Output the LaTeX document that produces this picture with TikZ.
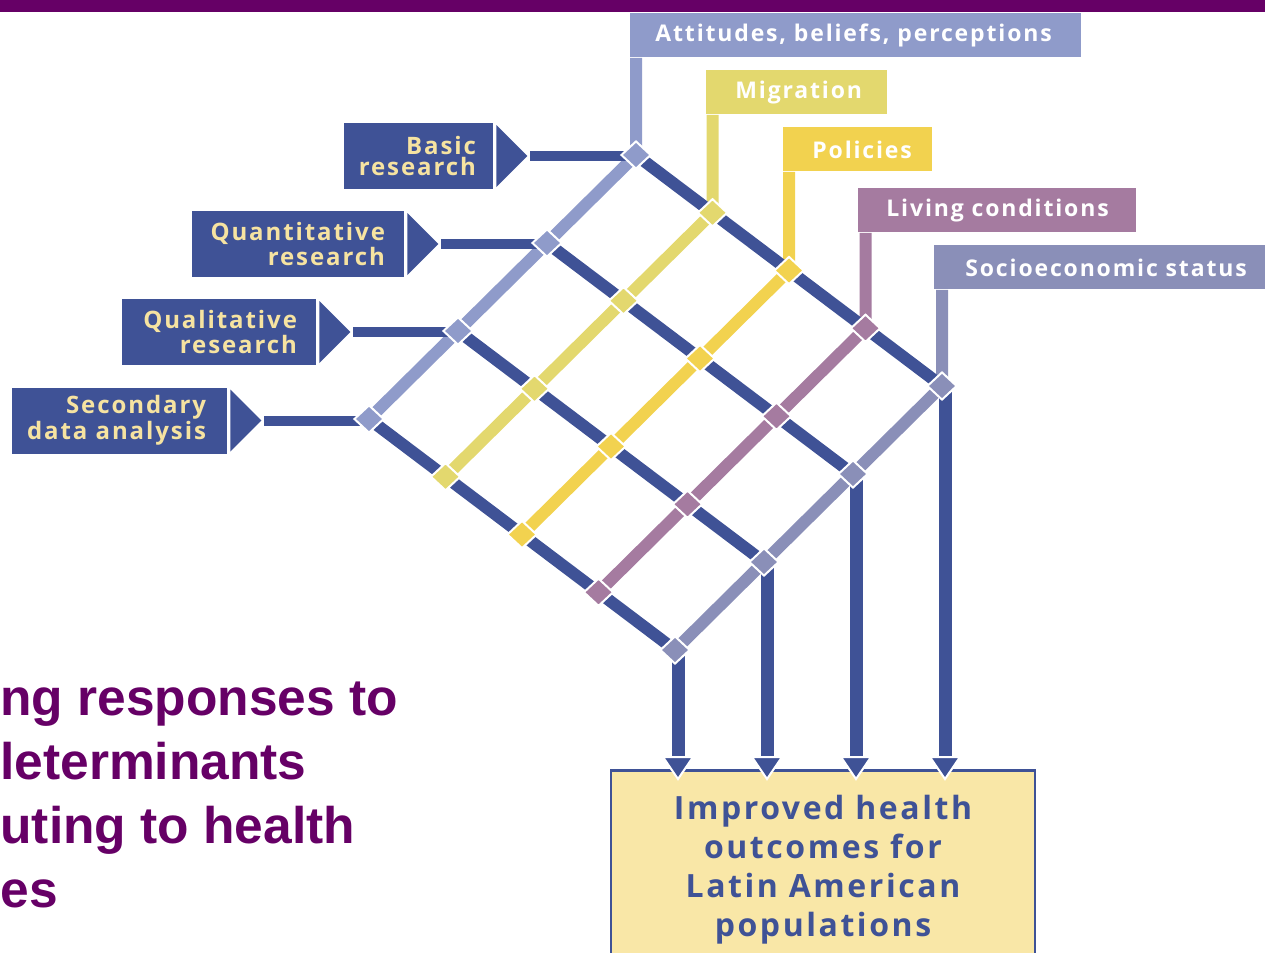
\documentclass[tikz,border=0pt]{standalone}
\usepackage{fontspec}
\usepackage{tikz}
\usetikzlibrary{positioning,shapes,arrows.meta}
\newfontfamily\lbl[LetterSpace=8,Ligatures=NoCommon]{Open Sans}
\newfontfamily\ttl{Liberation Sans}
\definecolor{dkblue}{HTML}{3F5296}
\definecolor{cream}{HTML}{F6E3A1}
\definecolor{att}{HTML}{8F9BCA}
\definecolor{mig}{HTML}{E3D86E}
\definecolor{pol}{HTML}{F2D24F}
\definecolor{liv}{HTML}{A57BA0}
\definecolor{soc}{HTML}{8A8FB8}
\definecolor{outbg}{HTML}{F9E7A7}
\definecolor{plum}{HTML}{660066}
\tikzset{rb/.style={fill=dkblue,rectangle,minimum height=33pt,inner
sep=0pt},rt/.style={text=cream,inner sep=0pt,align=right,
font=\lbl\bfseries\fontsize{12}{10.8}\selectfont},lb/.style={rectangle,anchor=north
west,minimum height=22pt,inner sep=0pt},lt/.style={text=white,inner
sep=0pt,font=\lbl\bfseries\fontsize{11.5}{12}\selectfont}}

\begin{document}
\begin{tikzpicture}[x=0.5pt,y=-0.5pt,dm/.style={diamond,draw=white,line width=1pt,
					inner sep=0pt,minimum width=15pt,minimum height=14pt},rw/.style={draw=dkblue,line
					width=6pt},cl/.style={line width=6pt}]
		\useasboundingbox (0,0) rectangle (1265,953);
		\clip (0,0) rectangle (1265,953);
		\fill[plum] (0,0) rectangle (1265,12);
		\foreach \i in {0,...,3}
			\foreach \j in {0,...,4}
				\coordinate (p\i\j) at ({636-89*\i+76.5*\j},{155+88*\i+57.75*\j});
		\node[lb,fill=att,minimum width=225.5pt] (l0) at (630,13) {};
		\node[lb,fill=mig,minimum width=90.5pt] (l1) at (706,70) {};
		\node[lb,fill=pol,minimum width=74.5pt] (l2) at (783,127) {};
		\node[lb,fill=liv,minimum width=139pt] (l3) at (858,188) {};
		\node[lb,fill=soc,minimum width=170pt] (l4) at (934,245) {};
		\node[lt,right=12.5pt of l0.west] (t0) {Attitudes, beliefs, perceptions};
		\node[lt,right=14.5pt of l1.west] (t1) {Migration};
		\node[lt,right=14.5pt of l2.west] (t2) {Policies};
		\node[lt,right=14pt of l3.west] (t3) {Living conditions};
		\node[lt,right=15.5pt of l4.west] (t4) {Socioeconomic status};
		\foreach \j/\c in {0/att,1/mig,2/pol,3/liv,4/soc}
			\draw[cl,draw=\c] (p3\j) -- (p0\j) -- (l\j.south -| p0\j);
		\foreach \i in {0,...,3}
			\draw[rw] (p\i0) -- (p\i4);
		\node[rb,minimum width=74.5pt] (r0) at (418.5,156) {};
		\node[rb,minimum width=106pt] (r1) at (298,244) {};
		\node[rb,minimum width=97pt] (r2) at (219,332) {};
		\node[rb,minimum width=107.5pt] (r3) at (119.5,420.5) {};
		\node[rt,left=8.5pt of r0.east] (s0) {Basic\\research};
		\node[rt,left=9.5pt of r1.east] (s1) {Quantitative\\research};
		\node[rt,left=9.5pt of r2.east] (s2) {Qualitative\\research};
		\node[rt,left=10.5pt of r3.east] (s3) {Secondary\\data analysis};
		\foreach \i in {0,...,3} {
			\coordinate (a\i) at ([xshift=17pt]r\i.east);
			\fill[dkblue] (a\i) -- ++(-31,-31) -- ++(0,62) -- cycle;
			\draw[dkblue,line width=5pt] ([xshift=1.5pt]a\i) -- (a\i -| p\i0);
		}
		\node[draw=dkblue,line width=1.25pt,fill=outbg,anchor=north,minimum width=212pt,
			minimum height=99pt,text=dkblue,align=center,
			font=\lbl\bfseries\fontsize{16}{19.5}\selectfont] (out) at (823,769)
			{Improved health\\outcomes for\\Latin American\\populations};
		\foreach \i in {0,...,3} {
			\coordinate (e\i) at ([xshift=1.5pt,yshift=-5pt]p\i4 |- out.north);
			\draw[dkblue,line width=6.5pt] ([xshift=1.5pt]p\i4) -- ([yshift=10pt]e\i);
			\filldraw[fill=dkblue,draw=white,line width=1pt] (e\i) -- ++(-15,-22) -- ++(30,0) -- cycle;
		}
		\foreach \i in {0,...,3}
			\foreach \j/\c in {0/att,1/mig,2/pol,3/liv,4/soc}
				\node[dm,fill=\c] (d\i\j) at (p\i\j) {};
		\node[anchor=base west,inner sep=0pt,text=plum,align=left,
			font=\ttl\bfseries\fontsize{25.75}{32}\selectfont] (ttl) at (0,907)
			{ng responses to\\leterminants\\uting to health\\es};
	\end{tikzpicture}
\end{document}
